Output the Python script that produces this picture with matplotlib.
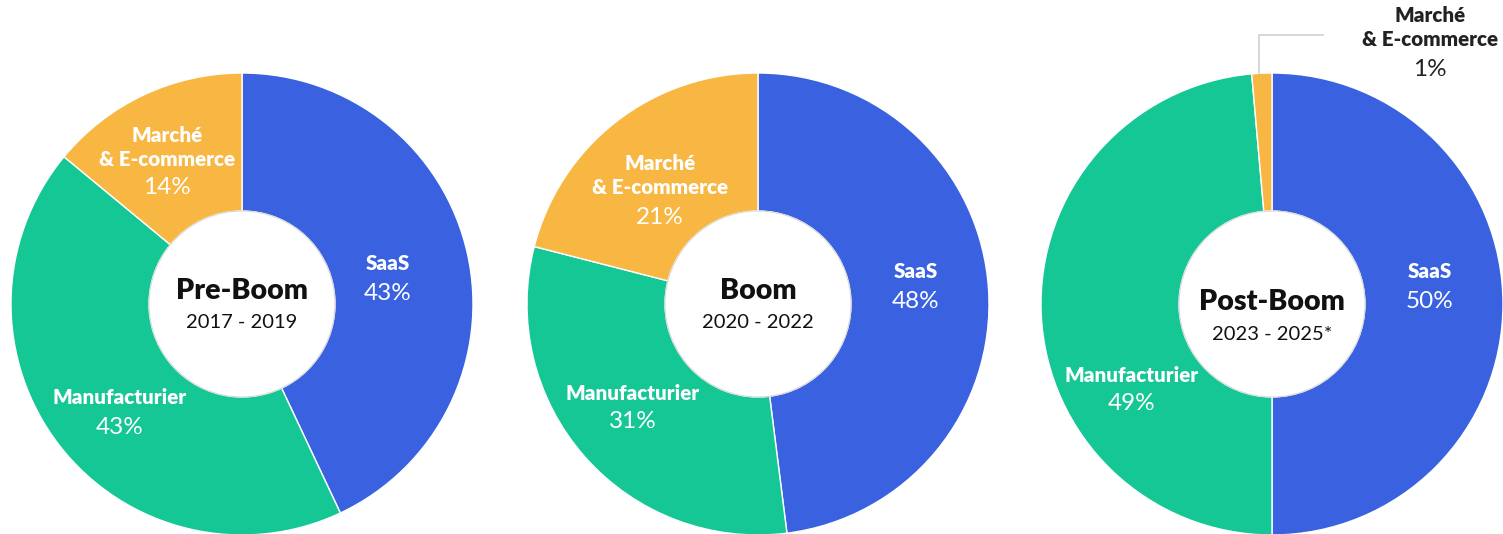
import matplotlib
matplotlib.use("Agg")
import matplotlib.pyplot as plt
from matplotlib.patches import Circle

plt.rcParams['font.family'] = ['Lato', 'DejaVu Sans']

# ---- data ----
categories = ["SaaS", "Manufacturier", "Marché\n& E-commerce"]
periods = ["Pre-Boom", "Boom", "Post-Boom"]
years = ["2017 - 2019", "2020 - 2022", "2023 - 2025*"]
saas = [43, 48, 50]
manufacturier = [43, 31, 48.6]
marche = [14, 21, 1.4]
colors = ["#3a62e0", "#16c796", "#f8b742"]

# ---- layout (pixel coordinates, y from top) ----
W, H = 1503, 534
centers = [(242, 304), (758, 304), (1272, 304)]
R_OUT, R_IN = 231, 93
title_y = [291, 291, 302]
year_y = [323, 323, 334]
# label anchor (x, name line y, pct line y) per pie & category
label_pos = [
    [(388, 263, 293), (120, 397, 427), (167, 135, 188)],
    [(916, 272, 301), (633, 393, 422), (660, 163, 217)],
    [(1430, 272, 301), (1132, 375, 404), (1430, 15, 70)],
]

fig = plt.figure(figsize=(W / 100, H / 100), dpi=100)
ax = fig.add_axes([0, 0, 1, 1])
ax.set_xlim(0, W)
ax.set_ylim(0, H)
ax.set_aspect('equal')
ax.axis('off')

def Y(y):
    return H - y

NAME_FS = 14.8
PCT_FS = 17.5

for i in range(3):
    vals = [saas[i], manufacturier[i], marche[i]]
    cx, cy = centers[i]
    ax.pie(vals, colors=colors, startangle=90, counterclock=False,
           center=(cx, Y(cy)), radius=R_OUT, frame=True,
           wedgeprops=dict(width=R_OUT - R_IN, edgecolor='white', linewidth=1.0))
    ax.add_patch(Circle((cx, Y(cy)), R_IN, facecolor='white',
                        edgecolor='#d8d8d8', linewidth=0.8, zorder=3))
    ax.text(cx, Y(title_y[i]), periods[i], ha='center', va='center',
            fontsize=20.5, fontweight='heavy', color='#111111', zorder=4)
    ax.text(cx, Y(year_y[i]), years[i], ha='center', va='center',
            fontsize=14.5, color='#111111', zorder=4)
    for j, v in enumerate(vals):
        lx, ny, py = label_pos[i][j]
        outside = (i == 2 and j == 2)
        tc = '#222222' if outside else 'white'
        name = categories[j]
        lines = name.split("\n")
        for k, ln in enumerate(lines):
            ax.text(lx, Y(ny + 24 * k), ln, ha='center', va='center',
                    fontsize=NAME_FS, fontweight='heavy', color=tc, zorder=4)
        ax.text(lx, Y(py), f"{v:.0f}%", ha='center', va='center',
                fontsize=PCT_FS, color=tc, zorder=4)

# leader line for the tiny slice
ax.plot([1259, 1259, 1323], [Y(73), Y(35), Y(35)], color='#d0d0d0', lw=1.2,
        solid_joinstyle='miter', zorder=2)

ax.set_xlim(0, W)
ax.set_ylim(0, H)
fig.savefig("out.png", dpi=100)
